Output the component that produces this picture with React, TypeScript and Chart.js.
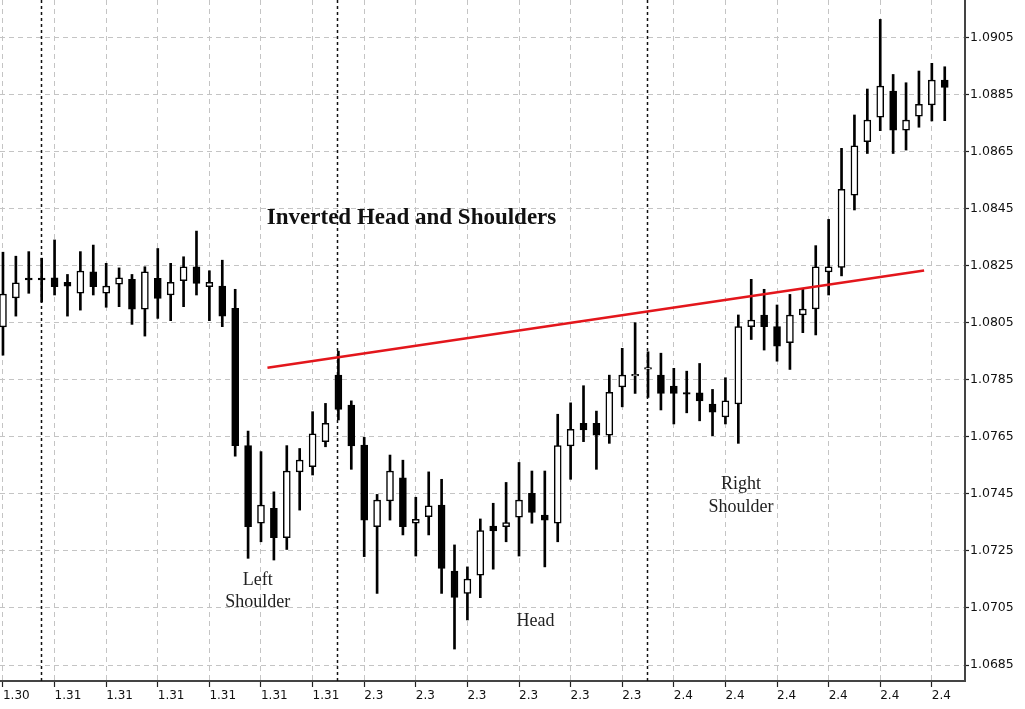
import React, { useEffect, useRef } from 'react';
import { Chart, registerables } from 'chart.js';

Chart.register(...registerables);

// ---- Data (EURUSD-like candles) ----
const openPrices = [
  1.08035, 1.08137, 1.08206, 1.08206, 1.08207, 1.08191, 1.08153, 1.08228, 1.08153, 1.08185,
  1.08202, 1.08097, 1.08205, 1.08147, 1.08197, 1.08246, 1.08176, 1.08178, 1.08100, 1.07619,
  1.07347, 1.07399, 1.07296, 1.07527, 1.07545, 1.07633, 1.07866, 1.07761, 1.07621, 1.07335,
  1.07425, 1.07506, 1.07347, 1.07370, 1.07411, 1.07179, 1.07101, 1.07165, 1.07337, 1.07335,
  1.07368, 1.07452, 1.07376, 1.07347, 1.07618, 1.07697, 1.07697, 1.07656, 1.07825, 1.07863,
  1.07887, 1.07866, 1.07828, 1.07805, 1.07804, 1.07765, 1.07720, 1.07765, 1.08036, 1.08077,
  1.08036, 1.07980, 1.08077, 1.08098, 1.08228, 1.08244, 1.08497, 1.08684, 1.08770, 1.08862,
  1.08725, 1.08774, 1.08813, 1.08900,
];
const highPrices = [
  1.08297, 1.08283, 1.08299, 1.08276, 1.08340, 1.08219, 1.08299, 1.08322, 1.08258, 1.08242,
  1.08219, 1.08246, 1.08310, 1.08258, 1.08281, 1.08371, 1.08232, 1.08269, 1.08167, 1.07670,
  1.07598, 1.07457, 1.07619, 1.07609, 1.07738, 1.07767, 1.07950, 1.07776, 1.07648, 1.07448,
  1.07586, 1.07568, 1.07438, 1.07527, 1.07501, 1.07271, 1.07194, 1.07362, 1.07417, 1.07490,
  1.07560, 1.07530, 1.07530, 1.07729, 1.07769, 1.07829, 1.07740, 1.07866, 1.07960, 1.08050,
  1.07948, 1.07943, 1.07890, 1.07880, 1.07907, 1.07816, 1.07857, 1.08077, 1.08202, 1.08167,
  1.08112, 1.08149, 1.08167, 1.08320, 1.08412, 1.08661, 1.08778, 1.08869, 1.09113, 1.08920,
  1.08891, 1.08932, 1.08959, 1.08947,
];
const lowPrices = [
  1.07936, 1.08073, 1.08153, 1.08122, 1.08147, 1.08073, 1.08094, 1.08147, 1.08104, 1.08106,
  1.08044, 1.08003, 1.08065, 1.08057, 1.08106, 1.08147, 1.08057, 1.08036, 1.07582, 1.07224,
  1.07282, 1.07218, 1.07255, 1.07393, 1.07516, 1.07615, 1.07709, 1.07536, 1.07230, 1.07101,
  1.07358, 1.07306, 1.07232, 1.07306, 1.07101, 1.06906, 1.07008, 1.07086, 1.07186, 1.07282,
  1.07232, 1.07347, 1.07194, 1.07282, 1.07501, 1.07633, 1.07536, 1.07627, 1.07755, 1.07802,
  1.07788, 1.07744, 1.07695, 1.07734, 1.07706, 1.07654, 1.07695, 1.07627, 1.07991, 1.07954,
  1.07915, 1.07886, 1.08015, 1.08007, 1.08147, 1.08214, 1.08445, 1.08643, 1.08723, 1.08643,
  1.08655, 1.08735, 1.08757, 1.08758,
];
const closePrices = [
  1.08150, 1.08190, 1.08200, 1.08200, 1.08176, 1.08178, 1.08231, 1.08176, 1.08178, 1.08207,
  1.08097, 1.08228, 1.08135, 1.08191, 1.08246, 1.08188, 1.08191, 1.08073, 1.07619, 1.07335,
  1.07411, 1.07296, 1.07530, 1.07568, 1.07660, 1.07697, 1.07746, 1.07618, 1.07358, 1.07428,
  1.07530, 1.07335, 1.07361, 1.07408, 1.07189, 1.07087, 1.07151, 1.07321, 1.07320, 1.07349,
  1.07428, 1.07385, 1.07358, 1.07619, 1.07676, 1.07674, 1.07656, 1.07806, 1.07866, 1.07869,
  1.07893, 1.07802, 1.07802, 1.07799, 1.07776, 1.07736, 1.07776, 1.08036, 1.08059, 1.08036,
  1.07968, 1.08077, 1.08098, 1.08246, 1.08246, 1.08517, 1.08670, 1.08760, 1.08879, 1.08725,
  1.08760, 1.08815, 1.08900, 1.08875,
];

const xTickLabels = [
  '1.30', '1.31', '1.31', '1.31', '1.31', '1.31', '1.31',
  '2.3', '2.3', '2.3', '2.3', '2.3', '2.3',
  '2.4', '2.4', '2.4', '2.4', '2.4', '2.4',
];
const candlesPerTick = 4;

const yTickValues = [
  1.0685, 1.0705, 1.0725, 1.0745, 1.0765, 1.0785, 1.0805, 1.0825, 1.0845, 1.0865, 1.0885, 1.0905,
];

// Neckline (red trend line), in candle index / price
const necklineX = [20.5, 71.4];
const necklineY = [1.07892, 1.08233];

// Period separators (candle index)
const separatorIndices = [3, 26, 50];

// Text notes anchored at candle index / price (baseline)
const noteTexts = ['Inverted Head and Shoulders', 'Left', 'Shoulder', 'Head', 'Right', 'Shoulder'];
const noteX = [31.67, 19.75, 19.75, 41.28, 57.2, 57.2];
const noteY = [1.08396, 1.0713, 1.07054, 1.06987, 1.07467, 1.07386];
const noteBold = [true, false, false, false, false, false];

const overlayPlugin = {
  id: 'overlay',
  beforeDatasetsDraw(chart: any) {
    const { ctx, chartArea, scales } = chart;
    ctx.save();
    ctx.beginPath();
    ctx.rect(chartArea.left, chartArea.top, chartArea.right - chartArea.left, chartArea.bottom - chartArea.top);
    ctx.clip();
    ctx.strokeStyle = '#111';
    ctx.lineWidth = 1.5;
    ctx.setLineDash([3, 3]);
    separatorIndices.forEach((i) => {
      const x = Math.round(scales.x.getPixelForValue(i)) - 0.5;
      ctx.beginPath();
      ctx.moveTo(x, chartArea.top);
      ctx.lineTo(x, chartArea.bottom);
      ctx.stroke();
    });
    ctx.restore();
  },
  afterDatasetsDraw(chart: any) {
    const { ctx, scales } = chart;
    ctx.save();
    ctx.textAlign = 'center';
    ctx.textBaseline = 'alphabetic';
    noteTexts.forEach((t, i) => {
      ctx.font = noteBold[i] ? 'bold 23px "Liberation Serif"' : '18px "Liberation Serif"';
      ctx.fillStyle = noteBold[i] ? '#111' : '#222';
      ctx.fillText(t, scales.x.getPixelForValue(noteX[i]), scales.y.getPixelForValue(noteY[i]));
    });
    ctx.restore();
  },
};

export default function App() {
  const canvasRef = useRef<HTMLCanvasElement | null>(null);

  useEffect(() => {
    const canvas = canvasRef.current;
    if (!canvas) return;

    const bodyData = openPrices.map((o, i) => ({ x: i, y: [o, closePrices[i]] }));
    const wickData = lowPrices.map((l, i) => ({ x: i, y: [l, highPrices[i]] }));
    const bodyColors = openPrices.map((o, i) => (closePrices[i] >= o ? '#ffffff' : '#000000'));
    const neckline = necklineX.map((x, i) => ({ x, y: necklineY[i] }));

    const chart = new Chart(canvas, {
      type: 'bar',
      data: {
        datasets: [
          {
            type: 'line',
            data: neckline,
            borderColor: '#e3161c',
            borderWidth: 2.6,
            pointRadius: 0,
            order: 0,
          } as any,
          {
            type: 'bar',
            data: bodyData,
            backgroundColor: bodyColors,
            borderColor: '#000',
            borderWidth: 1.5,
            borderSkipped: false,
            barThickness: 7,
            grouped: false,
            order: 1,
          } as any,
          {
            type: 'bar',
            data: wickData,
            backgroundColor: '#000',
            borderWidth: 0,
            barThickness: 2,
            grouped: false,
            order: 2,
          } as any,
        ],
      },
      options: {
        animation: false,
        responsive: false,
        maintainAspectRatio: false,
        events: [],
        layout: { padding: 0 },
        plugins: { legend: { display: false }, tooltip: { enabled: false } },
        scales: {
          x: {
            type: 'linear',
            min: -0.23,
            max: 74.57,
            offset: false,
            grid: {
              offset: false,
              color: '#c4c4c4',
              lineWidth: 1,
              drawTicks: true,
              tickLength: 6,
              tickColor: '#222',
              tickWidth: 1.2,
            },
            border: { display: true, color: '#444', width: 2, dash: [5, 4] },
            ticks: {
              autoSkip: false,
              maxRotation: 0,
              minRotation: 0,
              align: 'start',
              padding: 2,
              color: '#111',
              font: { family: 'DejaVu Sans', size: 12 },
              callback: (_v: any, index: number) => xTickLabels[index],
            },
            afterBuildTicks: (s: any) => {
              s.ticks = xTickLabels.map((_, i) => ({ value: i * candlesPerTick }));
            },
            afterFit: (s: any) => {
              s.height = 28;
              s.paddingLeft = 0;
              s.paddingRight = 0;
            },
          },
          y: {
            type: 'linear',
            position: 'right',
            min: 1.06794,
            max: 1.09181,
            beginAtZero: false,
            grid: {
              color: '#c4c4c4',
              lineWidth: 1,
              drawTicks: true,
              tickLength: 4,
              tickColor: '#222',
              tickWidth: 1.2,
            },
            border: { display: true, color: '#444', width: 2, dash: [5, 4] },
            ticks: {
              padding: 1,
              color: '#111',
              font: { family: 'DejaVu Sans', size: 12.5 },
              callback: (v: any) => Number(v).toFixed(4),
            },
            afterBuildTicks: (s: any) => {
              s.ticks = yTickValues.map((v) => ({ value: v }));
            },
            afterFit: (s: any) => {
              s.width = 60;
              s.paddingTop = 0;
              s.paddingBottom = 0;
            },
          },
        },
      } as any,
      plugins: [overlayPlugin],
    });

    return () => chart.destroy();
  }, []);

  return (
    <div style={{ position: 'absolute', left: 0, top: 0, width: 1025, height: 709, background: '#fff' }}>
      <canvas ref={canvasRef} width={1025} height={709} style={{ display: 'block' }} />
    </div>
  );
}
